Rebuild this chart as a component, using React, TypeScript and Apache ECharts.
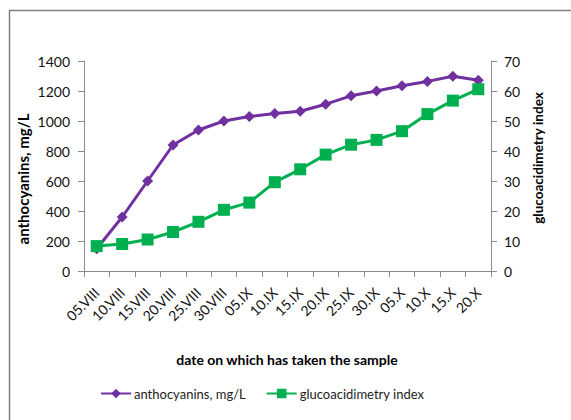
import React, { useEffect, useRef } from "react";
import * as echarts from "echarts";

const categories = ["05.VIII", "10.VIII", "15.VIII", "20.VIII", "25.VIII", "30.VIII", "05.IX", "10.IX", "15.IX", "20.IX", "25.IX", "30.IX", "05.X", "10.X", "15.X", "20.X"];
const anthocyanins = [148, 360, 600, 840, 940, 1000, 1030, 1050, 1065, 1112, 1168, 1200, 1235, 1264, 1298, 1272];
const glucoacidimetry = [8.3, 9.0, 10.5, 13.0, 16.4, 20.4, 22.8, 29.6, 33.9, 38.8, 42.1, 43.7, 46.6, 52.3, 56.8, 60.6];
const leftTicks = { min: 0, max: 1400, interval: 200 };
const rightTicks = { min: 0, max: 70, interval: 10 };

const FONT = "Lato";
const PURPLE = "#7030A0";
const GREEN = "#00B050";

export default function App() {
  const ref = useRef<HTMLDivElement>(null);
  useEffect(() => {
    const chart = echarts.init(ref.current!, null, { renderer: "svg" });
    const axisLineStyle = { lineStyle: { color: "#8c8c8c", width: 1 } };
    chart.setOption({
      animation: false,
      backgroundColor: "#ffffff",
      textStyle: { fontFamily: FONT },
      grid: { left: 84, right: 80, top: 61, bottom: 149, containLabel: false },
      graphic: [
        { type: "rect", shape: { x: 9.5, y: 10.5, width: 600, height: 450 }, style: { fill: "none", stroke: "#808080", lineWidth: 1.5 }, silent: true },
        { type: "text", x: 23, y: 179, rotation: Math.PI / 2, style: { text: "anthocyanins, mg/L", font: `bold 15px ${FONT}`, fill: "#000", align: "center", verticalAlign: "middle" } },
        { type: "text", x: 538, y: 158, rotation: Math.PI / 2, style: { text: "glucoacidimetry index", font: `bold 13.5px ${FONT}`, fill: "#000", align: "center", verticalAlign: "middle" } },
        { type: "text", x: 287, y: 359, style: { text: "date on which has taken the sample", font: `bold 14px ${FONT}`, fill: "#000", align: "center", verticalAlign: "middle" } },
      ],
      legend: {
        left: 95,
        top: 382,
        itemWidth: 30,
        itemHeight: 12,
        itemGap: 20,
        textStyle: { fontFamily: FONT, fontSize: 13, color: "#222", padding: [0, 0, 0, -2] },
        data: ["anthocyanins, mg/L", "glucoacidimetry index"],
      },
      xAxis: {
        type: "category",
        data: categories,
        boundaryGap: true,
        axisLine: axisLineStyle,
        axisTick: { show: true, length: 6, alignWithLabel: false, lineStyle: { color: "#8c8c8c" } },
        axisLabel: { rotate: 45, margin: 19, fontSize: 14, fontFamily: FONT, color: "#111", interval: 0 },
        splitLine: { show: false },
      },
      yAxis: [
        {
          type: "value",
          min: leftTicks.min,
          max: leftTicks.max,
          interval: leftTicks.interval,
          axisLine: { show: true, ...axisLineStyle },
          axisTick: { show: true, length: 6, lineStyle: { color: "#8c8c8c" } },
          axisLabel: { margin: 14, fontSize: 14, fontFamily: FONT, color: "#111", formatter: (v: number) => String(v) },
          splitLine: { show: false },
        },
        {
          type: "value",
          min: rightTicks.min,
          max: rightTicks.max,
          interval: rightTicks.interval,
          position: "right",
          axisLine: { show: true, ...axisLineStyle },
          axisTick: { show: true, length: 6, lineStyle: { color: "#8c8c8c" } },
          axisLabel: { margin: 13, fontSize: 14, fontFamily: FONT, color: "#111", formatter: (v: number) => String(v) },
          splitLine: { show: false },
        },
      ],
      series: [
        {
          name: "anthocyanins, mg/L",
          type: "line",
          yAxisIndex: 0,
          data: anthocyanins,
          symbol: "diamond",
          symbolSize: 11,
          lineStyle: { color: PURPLE, width: 3 },
          itemStyle: { color: PURPLE },
          z: 2,
        },
        {
          name: "glucoacidimetry index",
          type: "line",
          yAxisIndex: 1,
          data: glucoacidimetry,
          symbol: "rect",
          symbolSize: 12,
          lineStyle: { color: GREEN, width: 3 },
          itemStyle: { color: GREEN },
          z: 3,
        },
      ],
    });
    return () => chart.dispose();
  }, []);
  return <div ref={ref} style={{ width: 571, height: 420, position: "absolute", left: 0, top: 0 }} />;
}
